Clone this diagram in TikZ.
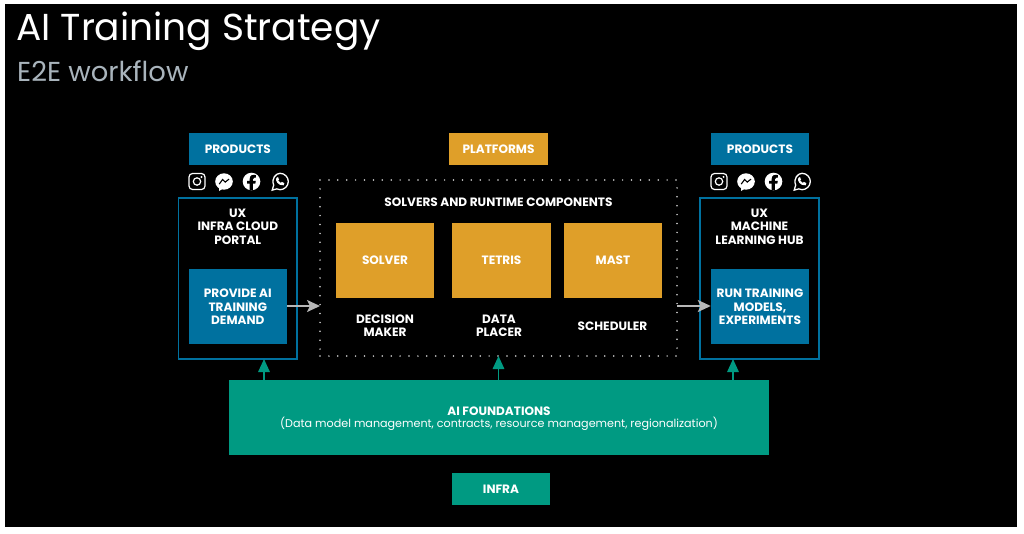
\documentclass[tikz,border=0pt]{standalone}
\usepackage{fontspec}
\setmainfont{Poppins}
\usetikzlibrary{arrows.meta}
\definecolor{bluebox}{HTML}{00719F}
\definecolor{goldbox}{HTML}{DF9F29}
\definecolor{greenbox}{HTML}{009A82}
\definecolor{subgrey}{HTML}{A9B4BC}
\definecolor{arrowgrey}{HTML}{B8B8B8}
\tikzset{
  x=1pt,y=-1pt,
  lbl/.style={text=white,font=\fontsize{12.1}{13.3}\selectfont\bfseries,align=center,inner sep=0pt},
  box/.style={lbl,minimum width=#1,inner sep=0pt,outer sep=0pt},
  bluefill/.style={fill=bluebox},
  goldfill/.style={fill=goldbox},
  greenfill/.style={fill=greenbox},
  frame/.style={draw=bluebox,line width=1.6pt,fill=none},
  grey arrow/.style={draw=arrowgrey,line width=2pt,-{Stealth[length=13pt,width=12pt,inset=3pt]}},
  green arrow/.style={draw=greenbox,line width=1.6pt,-{Triangle[length=13pt,width=11.5pt]}},
  icon/.style={draw=white,line width=1.2pt,fill=none},
}
\newcommand{\iconset}[1]{%
  \begin{scope}[shift={(#1,181.5)}]
    % instagram
    \draw[icon,rounded corners=3.5pt] (-8,-8) rectangle (8,8);
    \draw[icon] (0,0) circle (3.7);
    \fill[white] (4.5,-4.6) circle (1.1);
    % messenger
    \fill[white] (27,0) ellipse (8.8 and 8.2);
    \fill[white] (22,5) -- (22,9.5) -- (27,6.5) -- cycle;
    \draw[black,line width=1.1pt,line join=miter] (22.2,2.6) -- (25.6,-2) -- (28.2,0.6) -- (32,-2.4);
    % facebook
    \fill[white] (54.5,0) circle (8.8);
    \fill[black] (55.9,8.9) -- (55.9,2.2) -- (58.3,2.2) -- (58.8,-0.7) -- (55.9,-0.7) -- (55.9,-2.3)
       .. controls (55.9,-3.4) and (56.5,-3.9) .. (57.6,-3.9) -- (58.9,-3.9) -- (58.9,-6.4)
       .. controls (56,-7) and (52.7,-6.6) .. (52.7,-2.8) -- (52.7,-0.7) -- (50.2,-0.7) -- (50.2,2.2) -- (52.7,2.2) -- (52.7,8.9) -- cycle;
    % whatsapp
    \draw[icon,line width=1.3pt] (75.2,8.6) -- (76.7,3.6) .. controls (74,-3) and (79,-8.2) .. (83,-8.2)
       .. controls (88,-8.2) and (91.3,-4) .. (91.3,0) .. controls (91.3,5) and (87,8.2) .. (83,8.2)
       .. controls (81.5,8.2) and (80.6,7.9) .. (79.8,7.4) -- cycle;
    \fill[white] (79.3,-3.6) .. controls (78,-1) and (81,4.5) .. (86.6,3.8) -- (87.3,1.6) -- (84.8,0.4) -- (83.8,1.5)
       .. controls (82.5,1) and (81.6,0) .. (81.2,-1) -- (82,-2) -- (81,-4.4) -- cycle;
  \end{scope}}
\begin{document}
\begin{tikzpicture}
\useasboundingbox (0,0) rectangle (1024,533);
\fill[white] (0,0) rectangle (1024,533);
\fill[black] (5,4) rectangle (1017,527);

\node[anchor=west,text=white,inner sep=0pt,font=\fontsize{37.5}{42}\selectfont] (title) at (16,31) {AI Training Strategy};
\node[anchor=west,text=subgrey,inner sep=0pt,font=\fontsize{27.4}{30}\selectfont] (subtitle) at (17,71) {E2E workflow};

% top labels
\node[box=98.5pt,bluefill,minimum height=31.5pt] (prodL) at (237.8,149.2) {PRODUCTS};
\node[box=99pt,goldfill,minimum height=31.5pt] (plat) at (498.5,149.2) {PLATFORMS};
\node[box=98.5pt,bluefill,minimum height=31.5pt] (prodR) at (760,149.2) {PRODUCTS};

\iconset{197}
\iconset{719}

% left frame
\node[frame,minimum width=118.5pt,minimum height=161pt,outer sep=0pt,inner sep=0pt] (frameL) at (237.8,278.5) {};
\node[lbl] (uxL) at (237.8,226.5) {UX\\INFRA CLOUD\\PORTAL};
\node[box=98.5pt,bluefill,minimum height=75pt] (demand) at (237.8,306) {};
\node[lbl] (demandtext) at (237.8,306.8) {PROVIDE AI\\TRAINING\\DEMAND};

% right frame
\node[frame,minimum width=118.5pt,minimum height=161pt,outer sep=0pt,inner sep=0pt] (frameR) at (759.5,278.5) {};
\node[lbl] (uxR) at (759.5,226.5) {UX\\MACHINE\\LEARNING HUB};
\node[box=98.5pt,bluefill,minimum height=75pt] (run) at (760,306) {};
\node[lbl] (runtext) at (760,306.8) {RUN TRAINING\\MODELS,\\EXPERIMENTS};

% dotted region
\node[draw=white!85!black,line width=1.7pt,line cap=round,dash pattern=on 0pt off 8.9pt,minimum width=357pt,minimum height=176pt,inner sep=0pt,outer sep=0pt] (solvers) at (498.5,268) {};
\node[lbl] (soltitle) at (498.5,202.5) {SOLVERS AND RUNTIME COMPONENTS};

\node[box=98.5pt,goldfill,minimum height=75pt] (solver) at (385,260.5) {\raisebox{-0.8pt}{SOLVER}};
\node[box=98.5pt,goldfill,minimum height=75pt] (tetris) at (501.5,260.5) {\raisebox{-0.8pt}{TETRIS}};
\node[box=98.5pt,goldfill,minimum height=75pt] (mast) at (613,260.5) {\raisebox{-0.8pt}{MAST}};

\node[lbl] (decision) at (385,326) {DECISION\\MAKER};
\node[lbl] (data) at (499,326) {DATA\\PLACER};
\node[lbl] (sched) at (612.5,326) {SCHEDULER};

% foundations
\node[box=540pt,greenfill,minimum height=75pt] (found) at (499,417.5) {};
\node[lbl] (foundtext) at (499,418.5) {\bfseries AI FOUNDATIONS\\[-0.8pt]\fontsize{11.15}{13.3}\selectfont\normalfont (Data model management, contracts, resource management, regionalization)};
\node[box=98.5pt,greenfill,minimum height=32pt] (infra) at (501,489) {INFRA};

% connectors
\draw[grey arrow] (demand.east |- 0,306) -- (solvers.west |- 0,306);
\draw[grey arrow] (solvers.east |- 0,306) -- (run.west |- 0,306);
\draw[green arrow] (found.north -| 264,0) -- (frameL.south -| 264,0);
\draw[green arrow] (found.north -| 498.5,0) -- (solvers.south -| 498.5,0);
\draw[green arrow] (found.north -| 733,0) -- (frameR.south -| 733,0);
\end{tikzpicture}
\end{document}
